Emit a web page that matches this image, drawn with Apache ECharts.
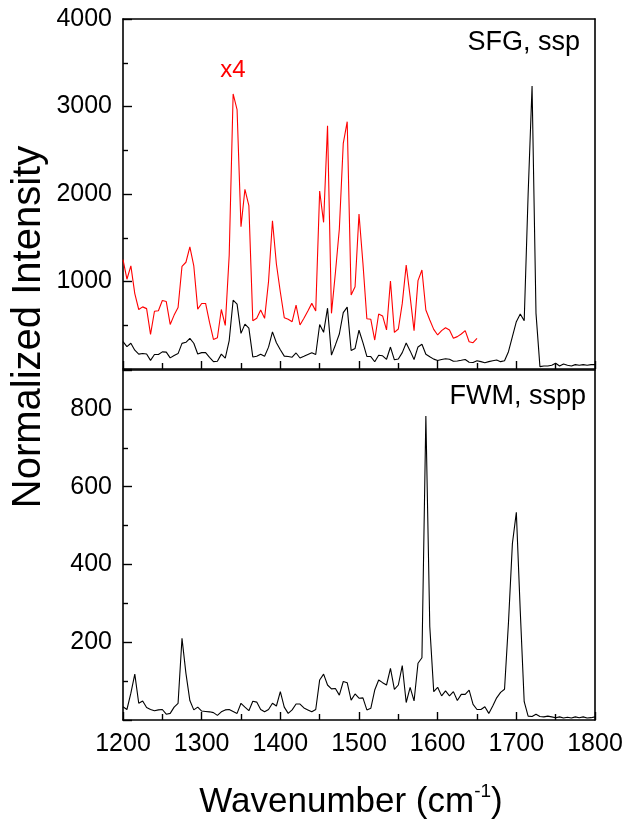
<!DOCTYPE html>
<html>
<head>
<meta charset="utf-8">
<script src="https://cdn.jsdelivr.net/npm/echarts@6/dist/echarts.min.js"></script>
<style>
html,body{margin:0;padding:0;background:#fff;}
#chart{width:627px;height:826px;}
</style>
</head>
<body>
<div id="chart"></div>
<script>
// Wavenumbers (cm^-1), 5 cm^-1 sampling
const wavenumbers = [1200,1205,1210,1215,1220,1225,1230,1235,1240,1245,1250,1255,1260,1265,1270,1275,1280,1285,1290,1295,
1300,1305,1310,1315,1320,1325,1330,1335,1340,1345,1350,1355,1360,1365,1370,1375,1380,1385,1390,1395,
1400,1405,1410,1415,1420,1425,1430,1435,1440,1445,1450,1455,1460,1465,1470,1475,1480,1485,1490,1495,
1500,1505,1510,1515,1520,1525,1530,1535,1540,1545,1550,1555,1560,1565,1570,1575,1580,1585,1590,1595,
1600,1605,1610,1615,1620,1625,1630,1635,1640,1645,1650,1655,1660,1665,1670,1675,1680,1685,1690,1695,
1700,1705,1710,1715,1720,1725,1730,1735,1740,1745,1750,1755,1760,1765,1770,1775,1780,1785,1790,1795,1800];

// SFG ssp (black, top panel), 1200-1800
const sfgSsp = [312,256,294,215,170,178,172,99,165,166,196,193,127,154,176,293,305,349,294,171,
187,187,133,84,89,170,124,325,786,741,407,513,467,138,145,168,145,250,424,300,
220,147,142,135,183,126,145,166,187,166,508,419,695,159,275,400,645,707,211,235,
443,302,144,142,83,157,151,111,251,105,114,187,297,207,109,252,283,168,140,113,
97,109,118,111,88,92,100,109,78,75,95,84,72,84,95,103,84,95,198,370,
541,629,552,2000,3235,636,27,34,34,42,65,34,57,42,34,50,42,50,42,50,50];

// SFG ssp x4 (red, top panel), 1200-1650
const sfgSspX4 = [1250,1026,1178,862,680,710,690,395,660,665,783,771,509,616,703,1174,1220,1395,1178,684,
749,749,532,338,357,680,498,1300,3143,2965,1627,2054,1867,552,579,674,579,1000,1695,1200,
880,587,568,541,731,503,579,663,750,663,2034,1676,2781,636,1100,1600,2579,2827,846,941,
1772,1208,575,568,331,629,606,446,1006,419,457,750,1189,827,438,1010,1132,674,560,453,
389,438,472,446,351,370,400,438,312,301,351];

// FWM sspp (black, bottom panel), 1200-1800
const fwmSspp = [34,27,69,118,43,49,32,27,24,26,27,15,17,33,43,210,120,50,26,33,
23,22,21,19,12,21,26,27,22,17,43,33,24,48,46,27,21,27,43,36,
73,33,17,26,41,41,31,26,21,27,103,118,90,80,81,64,99,96,51,67,
56,57,26,30,77,103,96,90,133,79,90,140,45,84,49,146,160,782,240,73,
84,62,75,62,73,50,66,66,77,40,27,27,34,17,36,57,71,79,250,454,
534,280,47,10,9,15,9,8,10,8,6,8,5,7,5,8,6,8,5,6,8];

const xTicks = [1200,1300,1400,1500,1600,1700,1800];
const topYTicks = [1000,2000,3000,4000];
const bottomYTicks = [200,400,600,800];

const FONT = '"Liberation Sans", Arial, sans-serif';
const pairs = (xs, ys) => ys.map((v, i) => [xs[i], v]);

const chart = echarts.init(document.getElementById('chart'), null, {renderer: 'canvas'});

const axisLine = {show: true, onZero: false, lineStyle: {color: '#000', width: 1.6}};
function xAxisMain(gridIndex, showLabel) {
  return {
    type: 'value', gridIndex: gridIndex, position: 'bottom',
    min: 1200, max: 1800, interval: 100,
    axisLine: axisLine,
    axisTick: {show: true, inside: true, length: 8, lineStyle: {color: '#000', width: 1.4}},
    minorTick: {show: true, splitNumber: 2, length: 6, lineStyle: {color: '#000', width: 1.4}},
    splitLine: {show: false}, minorSplitLine: {show: false},
    axisLabel: {show: showLabel, margin: 12, color: '#000', fontSize: 25, fontFamily: FONT,
      formatter: v => xTicks.indexOf(v) >= 0 ? String(v) : ''}
  };
}
function frameAxisX(gridIndex) {
  return {type: 'value', gridIndex: gridIndex, position: 'top', min: 1200, max: 1800,
    axisLine: axisLine, axisTick: {show: false}, axisLabel: {show: false}, splitLine: {show: false}};
}
function yAxisMain(gridIndex, max, interval, ticks) {
  return {
    type: 'value', gridIndex: gridIndex, position: 'left',
    min: 0, max: max, interval: interval,
    axisLine: axisLine,
    axisTick: {show: true, inside: true, length: 9, lineStyle: {color: '#000', width: 1.4}},
    minorTick: {show: true, splitNumber: 2, length: 5, lineStyle: {color: '#000', width: 1.4}},
    splitLine: {show: false}, minorSplitLine: {show: false},
    axisLabel: {show: true, margin: 11, color: '#000', fontSize: 25, fontFamily: FONT,
      formatter: v => ticks.indexOf(v) >= 0 ? String(v) : ''}
  };
}
function frameAxisY(gridIndex, max) {
  return {type: 'value', gridIndex: gridIndex, position: 'right', min: 0, max: max,
    axisLine: axisLine, axisTick: {show: false}, axisLabel: {show: false}, splitLine: {show: false}};
}

const option = {
  backgroundColor: '#fff',
  animation: false,
  grid: [
    {left: 123, top: 19, width: 472, height: 350, containLabel: false, outerBoundsMode: 'none'},
    {left: 123, top: 370, width: 472, height: 350, containLabel: false, outerBoundsMode: 'none'}
  ],
  xAxis: [xAxisMain(0, false), frameAxisX(0), xAxisMain(1, true), frameAxisX(1)],
  yAxis: [yAxisMain(0, 4000, 1000, topYTicks), frameAxisY(0, 4000),
          yAxisMain(1, 900, 200, bottomYTicks), frameAxisY(1, 900)],
  series: [
    {type: 'line', name: 'SFG ssp x4', xAxisIndex: 0, yAxisIndex: 0, data: pairs(wavenumbers, sfgSspX4),
      showSymbol: false, symbol: 'none', lineStyle: {color: '#ff0000', width: 1.1}, z: 2},
    {type: 'line', name: 'SFG ssp', xAxisIndex: 0, yAxisIndex: 0, data: pairs(wavenumbers, sfgSsp),
      showSymbol: false, symbol: 'none', lineStyle: {color: '#000', width: 1.1}, z: 3},
    {type: 'line', name: 'FWM sspp', xAxisIndex: 2, yAxisIndex: 2, data: pairs(wavenumbers, fwmSspp),
      showSymbol: false, symbol: 'none', lineStyle: {color: '#000', width: 1.1}, z: 3}
  ],
  graphic: [
    {type: 'text', x: 233, y: 70, style: {text: 'x4', fill: '#ff0000', font: '24px ' + FONT, align: 'center', verticalAlign: 'middle'}},
    {type: 'text', x: 580, y: 43, style: {text: 'SFG, ssp', fill: '#000', font: '27px ' + FONT, align: 'right', verticalAlign: 'middle'}},
    {type: 'text', x: 586, y: 397, style: {text: 'FWM, sspp', fill: '#000', font: '27px ' + FONT, align: 'right', verticalAlign: 'middle'}},
    {type: 'text', x: 29, y: 327, rotation: Math.PI / 2,
      style: {text: 'Normalized Intensity', fill: '#000', font: '40px ' + FONT, align: 'center', verticalAlign: 'middle'}},
    {type: 'text', x: 351, y: 802,
      style: {text: '{a|Wavenumber (cm}{s|-1}{a|)}', align: 'center', verticalAlign: 'middle',
        rich: {a: {fontSize: 35, fontFamily: FONT, fill: '#000', lineHeight: 40},
               s: {fontSize: 19, fontFamily: FONT, fill: '#000', verticalAlign: 'top', lineHeight: 40}}}}
  ]
};
chart.setOption(option);
</script>
</body>
</html>
